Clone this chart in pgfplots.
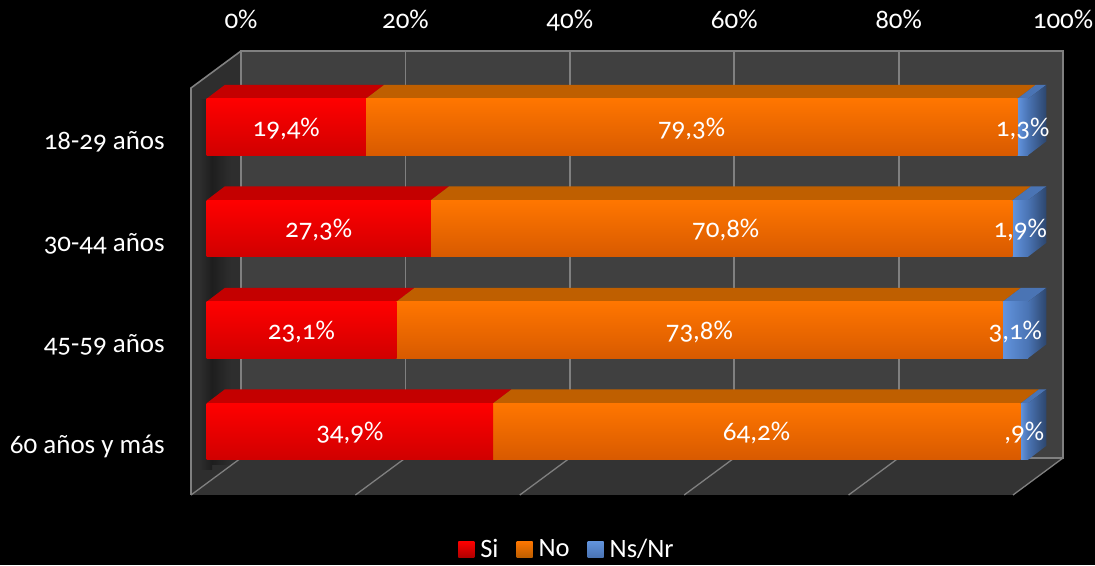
\documentclass[border=0pt]{standalone}
\usepackage{fontspec}
\setmainfont[Numbers=OldStyle]{Carlito}
\usepackage{pgfplots}
\usepackage{pgfplotstable}
\pgfplotsset{compat=1.18}
\definecolor{wallback}{HTML}{404040}
\definecolor{wallfloor}{HTML}{333333}
\definecolor{wallside}{HTML}{2E2E2E}
\definecolor{gridc}{HTML}{808080}
\definecolor{redtop}{HTML}{C40000}
\definecolor{redlow}{HTML}{D00000}
\definecolor{orgmid}{HTML}{FF7600}
\definecolor{orglow}{HTML}{D85A00}
\definecolor{orgtop}{HTML}{BF5F00}
\definecolor{blufront}{HTML}{6294DE}
\definecolor{blutop}{HTML}{4A74B4}
\newcommand\bigfont{\fontsize{27}{27}\selectfont}

% label positions = middle of each segment
\pgfplotstableread{
x y lab
9.7 0 {19,4\%}
59.05 0 {79,3\%}
99.35 0 {1,3\%}
13.65 1 {27,3\%}
63.2 1 {70,8\%}
99.05 1 {1,9\%}
11.55 2 {23,1\%}
60.0 2 {73,8\%}
98.45 2 {3,1\%}
17.45 3 {34,9\%}
66.95 3 {64,2\%}
99.55 3 {,9\%}
}\labels

\pgfplotsset{
  front/.style={
    scale only axis, width=821.5pt, height=406pt,
    at={(206.5pt,82.75pt)}, anchor=south west,
    xmin=0, xmax=100, ymin=-0.5, ymax=3.5, y dir=reverse,
    clip=false, axis line style={draw=none}, tick style={draw=none},
    xtick=\empty, ytick=\empty,
  },
}

% top face of one segment, depth about 18.5px by 14px
\newcommand\topface[4]{%
  \pgfmathsetmacro\xa{#1+2.25}\pgfmathsetmacro\xb{#2+2.25}%
  \pgfmathsetmacro\ya{#3-0.278}\pgfmathsetmacro\yb{#3-0.416}%
  \addplot[fill=#4, draw=none, forget plot] coordinates {(#1,\ya) (#2,\ya) (\xb,\yb) (\xa,\yb)} -- cycle;
}
\newcommand\sideface[1]{%
  \pgfmathsetmacro\ya{#1-0.278}\pgfmathsetmacro\yb{#1-0.416}%
  \pgfmathsetmacro\yc{#1+0.278}\pgfmathsetmacro\yd{#1+0.140}%
  \addplot[left color=blutop, right color=blutop!60!black, draw=none, forget plot]
    coordinates {(100,\ya) (102.25,\yb) (102.25,\yd) (100,\yc)} -- cycle;
}
% one stacked row in its own axis, so that each bar gets its own gradient
\newcommand\barrow[4]{%
  \begin{axis}[front, xbar stacked, bar width=56.5pt]
    \addplot[draw=none, top color=red, middle color=red, bottom color=redlow] coordinates {(#2,#1)};
    \addplot[draw=none, top color=orgmid, middle color=orgmid, bottom color=orglow] coordinates {(#3,#1)};
    \addplot[draw=none, left color=blufront, right color=blutop] coordinates {(#4,#1)};
  \end{axis}
}

\begin{document}
\begin{tikzpicture}
\fill[black] (0,0) rectangle (1095pt,565pt);
\useasboundingbox (0,0) rectangle (1095pt,565pt);

% side wall and floor, in image pixels
\begin{scope}[x=1pt, y=-1pt, yshift=565pt]
  \fill[wallside] (191,88) -- (241,51) -- (241,458) -- (191,495) -- cycle;
  \shade[left color=wallside, right color=black!35!wallside] (199,100) rectangle (212,470);
  \shade[left color=black!35!wallside, right color=wallside] (212,100) rectangle (231,465);
  \fill[wallfloor] (191,495) -- (241,458) -- (1063,458) -- (1013,495) -- cycle;
  \foreach \k in {0,...,5}
    \draw[gridc, line width=1.3pt] ({191+164.4*\k},495) -- ({241+164.4*\k},458);
  \draw[gridc, line width=1.6pt] (191,495) -- (191,88) -- (241,51);
\end{scope}

% back wall: carries the percent scale
\begin{axis}[
  scale only axis, width=822pt, height=407pt,
  at={(241pt,107pt)}, anchor=south west,
  xmin=0, xmax=100, ymin=0, ymax=1,
  axis background/.style={fill=wallback},
  axis line style={draw=gridc, line width=1.8pt},
  xmajorgrids, grid style={draw=gridc, line width=1.8pt},
  xtick={0,20,40,60,80,100},
  xticklabels={0\%,20\%,40\%,60\%,80\%,100\%},
  xticklabel pos=top, ytick=\empty,
  tick style={draw=none},
  xticklabel style={text=white, font=\bigfont, text height=18pt, text depth=6pt, inner sep=0pt, yshift=16pt},
]
\end{axis}

% tops and ends of the bars, category names
\begin{axis}[front,
  ytick={0,1,2,3},
  yticklabels={18-29 años,30-44 años,45-59 años,60 años y más},
  yticklabel style={text=white, font=\bigfont, inner sep=0pt, anchor=east, xshift=-41.5pt, yshift=-15pt},
]
  \topface{0}{19.4}{0}{redtop}
  \topface{19.4}{98.7}{0}{orgtop}
  \topface{98.7}{100}{0}{blutop}
  \topface{0}{27.3}{1}{redtop}
  \topface{27.3}{98.1}{1}{orgtop}
  \topface{98.1}{100}{1}{blutop}
  \topface{0}{23.1}{2}{redtop}
  \topface{23.1}{96.9}{2}{orgtop}
  \topface{96.9}{100}{2}{blutop}
  \topface{0}{34.9}{3}{redtop}
  \topface{34.9}{99.1}{3}{orgtop}
  \topface{99.1}{100}{3}{blutop}
  \sideface{0}\sideface{1}\sideface{2}\sideface{3}
\end{axis}

% front faces
\barrow{0}{19.4}{79.3}{1.3}
\barrow{1}{27.3}{70.8}{1.9}
\barrow{2}{23.1}{73.8}{3.1}
\barrow{3}{34.9}{64.2}{0.9}

% data labels
\begin{axis}[front]
  \addplot[only marks, mark=none, point meta=explicit symbolic,
    nodes near coords,
    nodes near coords style={anchor=center, text=white, font=\bigfont, inner sep=0pt, yshift=-2pt}]
    table[x=x, y=y, meta=lab] {\labels};
\end{axis}

% legend, in an axis of its own
\begin{axis}[
  scale only axis, width=1095pt, height=565pt, at={(0pt,0pt)}, anchor=south west,
  hide axis, xmin=0, xmax=1095, ymin=0, ymax=565,
  legend columns=3,
  legend style={at={(axis cs:566,17)}, anchor=center, draw=none, fill=none,
    text=white, font=\fontsize{26.5}{26.5}\selectfont, inner sep=0pt,
    nodes={inner sep=0pt, text depth=0pt},
    /tikz/every odd column/.append style={column sep=6pt},
    /tikz/every even column/.append style={column sep=18pt}},
]
  \addplot[draw=none, legend image code/.code={\path[top color=red, bottom color=red!70!black] (0pt,-9pt) rectangle (16pt,7pt);}] coordinates {(-10,-10)};
  \addplot[draw=none, legend image code/.code={\path[top color=orgmid, bottom color=orgtop] (0pt,-9pt) rectangle (16pt,7pt);}] coordinates {(-10,-10)};
  \addplot[draw=none, legend image code/.code={\path[top color=blufront, bottom color=blutop] (0pt,-9pt) rectangle (16pt,7pt);}] coordinates {(-10,-10)};
  \legend{Si,No,Ns/Nr}
\end{axis}
\end{tikzpicture}
\end{document}
